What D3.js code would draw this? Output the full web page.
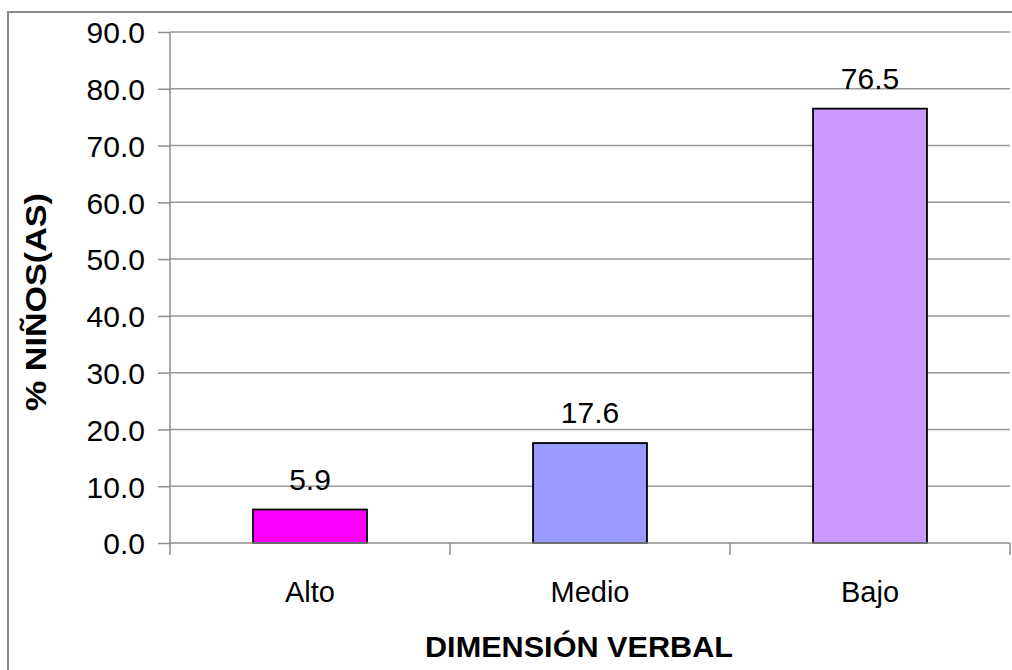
<!DOCTYPE html>
<html>
<head>
<meta charset="utf-8">
<script src="https://cdn.jsdelivr.net/npm/d3@7"></script>
<style>
  html, body { margin: 0; padding: 0; background: #fff; }
  text { font-family: "Liberation Sans", Arial, sans-serif; fill: #000; }
</style>
</head>
<body>
<svg id="chart" width="1012" height="670"></svg>
<script>
const categories = ["Alto", "Medio", "Bajo"];
const values = [5.9, 17.6, 76.5];
const barColors = ["#FF00FF", "#9999FF", "#CC99FF"];
const yTicks = [0, 10, 20, 30, 40, 50, 60, 70, 80, 90];
const yTitle = "% NIÑOS(AS)";
const xTitle = "DIMENSIÓN VERBAL";

const svg = d3.select("#chart");
const W = 1012, H = 670;
const plot = { left: 170, right: 1010, top: 32, bottom: 543 };

svg.append("rect").attr("width", W).attr("height", H).attr("fill", "#fff");

// outer chart border (extends beyond the window on right/bottom)
svg.append("rect")
  .attr("x", 8).attr("y", 12)
  .attr("width", 1100).attr("height", 800)
  .attr("fill", "none").attr("stroke", "#888").attr("stroke-width", 2);

const x = d3.scaleBand().domain(categories).range([plot.left, plot.right]).padding(0);
const y = d3.scaleLinear().domain([0, 90]).range([plot.bottom, plot.top]);

const gridColor = "#999";
const axisColor = "#8c8c8c";

// gridlines
svg.append("g").selectAll("line").data(yTicks.filter(d => d > 0)).join("line")
  .attr("x1", plot.left).attr("x2", plot.right)
  .attr("y1", d => y(d)).attr("y2", d => y(d))
  .attr("stroke", gridColor).attr("stroke-width", 1.5);

// y axis
const yAxis = d3.axisLeft(y).tickValues(yTicks).tickFormat(d3.format(".1f")).tickSize(12).tickPadding(13);
const gy = svg.append("g").attr("transform", `translate(${plot.left},0)`).call(yAxis);
gy.select(".domain").remove();
gy.selectAll(".tick line").attr("stroke", axisColor).attr("stroke-width", 1.5);
gy.selectAll(".tick text")
  .attr("font-size", 30).attr("font-family", "Liberation Sans, Arial, sans-serif")
  .attr("fill", "#000").attr("dy", "0.36em");
svg.append("line")
  .attr("x1", plot.left).attr("x2", plot.left)
  .attr("y1", plot.top).attr("y2", plot.bottom + 12)
  .attr("stroke", axisColor).attr("stroke-width", 1.5);

// bars
const barFrac = 0.407;
svg.append("g").selectAll("rect").data(categories).join("rect")
  .attr("x", (d) => x(d) + x.bandwidth() * (1 - barFrac) / 2)
  .attr("width", x.bandwidth() * barFrac)
  .attr("y", (d, i) => y(values[i]))
  .attr("height", (d, i) => y(0) - y(values[i]))
  .attr("fill", (d, i) => barColors[i])
  .attr("stroke", "#000").attr("stroke-width", 1.8);

// x axis line and ticks
svg.append("line")
  .attr("x1", plot.left).attr("x2", plot.right)
  .attr("y1", y(0)).attr("y2", y(0))
  .attr("stroke", axisColor).attr("stroke-width", 1.5);
const boundaries = categories.map(c => x(c)).concat([x(categories[categories.length - 1]) + x.bandwidth()]);
svg.append("g").selectAll("line").data(boundaries.slice(1)).join("line")
  .attr("x1", d => d).attr("x2", d => d)
  .attr("y1", y(0)).attr("y2", y(0) + 12)
  .attr("stroke", axisColor).attr("stroke-width", 1.5);

// category labels
svg.append("g").selectAll("text").data(categories).join("text")
  .attr("x", d => x(d) + x.bandwidth() / 2)
  .attr("y", 602)
  .attr("text-anchor", "middle")
  .attr("font-size", 29)
  .text(d => d);

// data labels
svg.append("g").selectAll("text").data(categories).join("text")
  .attr("x", d => x(d) + x.bandwidth() / 2)
  .attr("y", (d, i) => y(values[i]) - 20)
  .attr("text-anchor", "middle")
  .attr("font-size", 30)
  .text((d, i) => d3.format(".1f")(values[i]));

// axis titles
svg.append("text")
  .attr("transform", "translate(46,302) rotate(-90)")
  .attr("text-anchor", "middle")
  .attr("font-size", 30).attr("font-weight", "bold")
  .attr("textLength", 218).attr("lengthAdjust", "spacingAndGlyphs")
  .text(yTitle);

svg.append("text")
  .attr("x", 579).attr("y", 657)
  .attr("text-anchor", "middle")
  .attr("font-size", 30).attr("font-weight", "bold")
  .attr("textLength", 308).attr("lengthAdjust", "spacingAndGlyphs")
  .text(xTitle);
</script>
</body>
</html>
